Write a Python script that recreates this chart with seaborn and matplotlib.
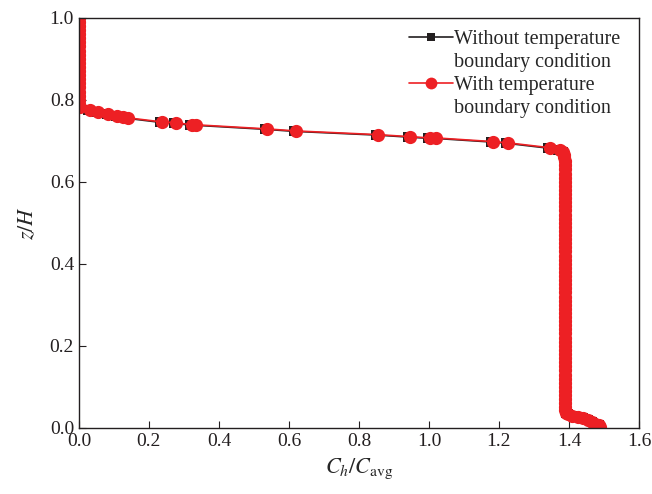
import matplotlib
matplotlib.use('Agg')
import matplotlib.pyplot as plt
from matplotlib.lines import Line2D
import numpy as np
import pandas as pd
import seaborn as sns

# top part, stuck to the left axis
top_x = [0.0, 0.0, 0.0, 0.0, 0.0, 0.0, 0.0, 0.0, 0.0, 0.0, 0.0, 0.0,
         0.0, 0.0, 0.0, 0.0, 0.0, 0.0, 0.0, 0.0, 0.0, 0.001, 0.004]
top_y = [1.0, 0.99, 0.98, 0.97, 0.96, 0.95, 0.94, 0.93, 0.92, 0.91, 0.90, 0.89,
         0.88, 0.87, 0.86, 0.85, 0.84, 0.83, 0.82, 0.81, 0.80, 0.79, 0.783]

# sloped middle part (with temperature boundary condition)
mid_x_red = [0.031, 0.054, 0.083, 0.109, 0.126, 0.140, 0.237, 0.277, 0.323, 0.334,
             0.537, 0.620, 0.854, 0.946, 1.003, 1.020, 1.183, 1.226, 1.346, 1.374]
mid_y_red = [0.776, 0.771, 0.766, 0.761, 0.759, 0.756, 0.746, 0.744, 0.739, 0.739,
             0.729, 0.724, 0.715, 0.710, 0.707, 0.707, 0.698, 0.695, 0.683, 0.678]
# same part without temperature boundary condition
mid_x_blk = [0.027, 0.050, 0.079, 0.105, 0.122, 0.136, 0.232, 0.272, 0.318, 0.329,
             0.532, 0.615, 0.849, 0.941, 0.998, 1.015, 1.178, 1.221, 1.341, 1.370]
mid_y_blk = [0.775, 0.770, 0.765, 0.760, 0.758, 0.755, 0.745, 0.743, 0.738, 0.738,
             0.728, 0.723, 0.714, 0.709, 0.706, 0.706, 0.697, 0.694, 0.682, 0.677]

# near-vertical part and the bottom tail
low_x = [1.383, 1.386, 1.387, 1.388, 1.388, 1.388, 1.388, 1.389, 1.389, 1.389,
         1.389, 1.389, 1.389, 1.389, 1.389, 1.389, 1.389, 1.389, 1.389, 1.389,
         1.389, 1.389, 1.389, 1.389, 1.389, 1.389, 1.389, 1.389, 1.389, 1.389,
         1.389, 1.389, 1.389, 1.389, 1.389, 1.389, 1.389, 1.389, 1.389, 1.389,
         1.389, 1.389, 1.389, 1.389, 1.389, 1.389, 1.389, 1.389, 1.389, 1.389,
         1.389, 1.389, 1.389, 1.389, 1.389, 1.389, 1.389, 1.389, 1.389, 1.389,
         1.389, 1.389, 1.389, 1.389, 1.390, 1.392, 1.398, 1.41, 1.425, 1.44,
         1.455, 1.465, 1.475, 1.485, 1.49]
low_y = [0.672, 0.665, 0.66, 0.65, 0.64, 0.63, 0.62, 0.61, 0.60, 0.59,
         0.58, 0.57, 0.56, 0.55, 0.54, 0.53, 0.52, 0.51, 0.50, 0.49,
         0.48, 0.47, 0.46, 0.45, 0.44, 0.43, 0.42, 0.41, 0.40, 0.39,
         0.38, 0.37, 0.36, 0.35, 0.34, 0.33, 0.32, 0.31, 0.30, 0.29,
         0.28, 0.27, 0.26, 0.25, 0.24, 0.23, 0.22, 0.21, 0.20, 0.19,
         0.18, 0.17, 0.16, 0.15, 0.14, 0.13, 0.12, 0.11, 0.10, 0.09,
         0.08, 0.07, 0.06, 0.05, 0.043, 0.037, 0.033, 0.030, 0.027, 0.023,
         0.019, 0.014, 0.010, 0.006, 0.003]

x_ticks = [0.0, 0.2, 0.4, 0.6, 0.8, 1.0, 1.2, 1.4, 1.6]
y_ticks = [0.0, 0.2, 0.4, 0.6, 0.8, 1.0]

df_blk = pd.DataFrame({'x': top_x + mid_x_blk + low_x, 'y': top_y + mid_y_blk + low_y})
df_red = pd.DataFrame({'x': top_x + mid_x_red + low_x, 'y': top_y + mid_y_red + low_y})

sns.set_style('ticks')
plt.rcParams['font.family'] = ['Liberation Serif', 'DejaVu Serif']
plt.rcParams['mathtext.fontset'] = 'stix'
plt.rcParams['xtick.direction'] = 'in'
plt.rcParams['ytick.direction'] = 'in'

fig = plt.figure(figsize=(6.52, 4.94), dpi=100)
ax = fig.add_axes([0.121, 0.134, 0.859, 0.830])

sns.lineplot(data=df_blk, x='x', y='y', sort=False, estimator=None, ax=ax,
             color='#231f20', marker='s', markersize=7, markeredgewidth=0,
             linewidth=1.2)
sns.lineplot(data=df_red, x='x', y='y', sort=False, estimator=None, ax=ax,
             color='#ed2024', marker='o', markersize=9.5, markeredgewidth=0,
             linewidth=1.2)

ax.set_xlim(0, 1.6)
ax.set_ylim(0, 1.0)
ax.set_xticks(x_ticks)
ax.set_yticks(y_ticks)
ax.xaxis.set_major_formatter(matplotlib.ticker.FormatStrFormatter('%.1f'))
ax.yaxis.set_major_formatter(matplotlib.ticker.FormatStrFormatter('%.1f'))
ax.tick_params(labelsize=14, length=5, width=0.8, colors='#231f20')
for s in ax.spines.values():
    s.set_linewidth(1.0)
    s.set_color('#231f20')

ax.set_xlabel(r'$C_h/C_{\rm avg}$', fontsize=16, labelpad=5)
ax.set_ylabel(r'$z/H$', fontsize=16, labelpad=8)

# legend: handle sits on the first line of each two-line label
blank = Line2D([], [], linestyle='none')
h_blk = Line2D([], [], color='#231f20', marker='s', markersize=6, markeredgewidth=0, linewidth=1.2)
h_red = Line2D([], [], color='#ed2024', marker='o', markersize=8.5, markeredgewidth=0, linewidth=1.2)
leg = ax.legend([h_blk, blank, h_red, blank],
                ['Without temperature', 'boundary condition',
                 'With temperature', 'boundary condition'],
                loc='upper right', bbox_to_anchor=(0.985, 0.995), frameon=False,
                fontsize=14.5, handlelength=2.2, handletextpad=0.05,
                labelspacing=0.2, borderaxespad=0.1)

fig.savefig('out.png', dpi=100)
